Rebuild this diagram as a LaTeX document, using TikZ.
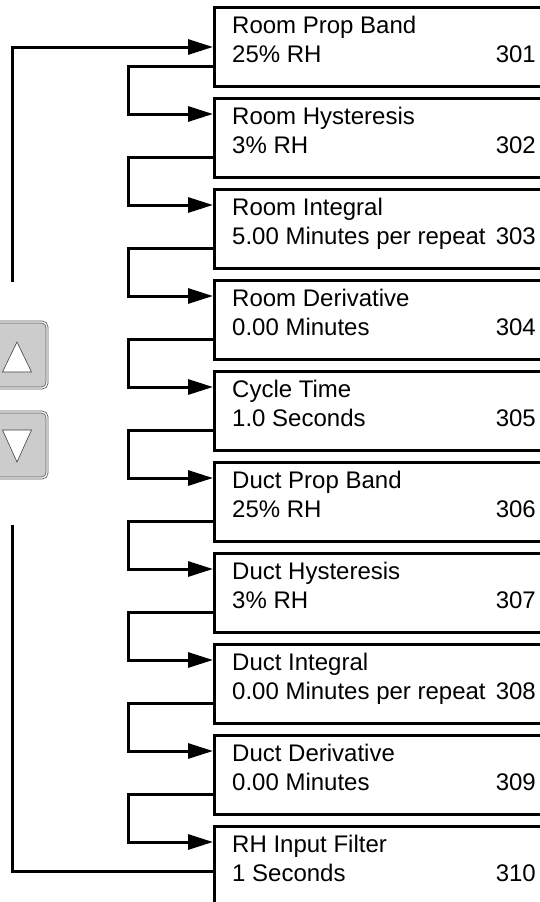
\documentclass[tikz,border=0pt]{standalone}
\usepackage{fontspec}
\setmainfont{Liberation Sans}
\usetikzlibrary{arrows.meta,positioning}
\tikzset{
  param/.style={draw,line width=3pt,minimum width=340pt,minimum height=79pt,anchor=north west},
  ptext/.style={inner sep=0pt,font=\fontsize{24}{28}\selectfont},
  flow/.style={line width=3pt,-{Triangle[length=25pt,width=15pt]}},
  keybtn/.style={draw=black!65,double=white,double distance=1.2pt,line width=0.8pt,
    fill=black!20,rounded corners=5pt,minimum width=60pt,minimum height=66pt},
  keytri/.style={draw=black!75,line width=0.6pt,fill=white}
}
\begin{document}
\begin{tikzpicture}[x=1pt,y=-1pt]
  \clip (0,0) rectangle (540,902);

  % Parameter screens
  \foreach \i/\ttl/\val/\num in {1/Room Prop Band/25\% RH/301, 2/Room Hysteresis/3\% RH/302,
      3/Room Integral/5.00 Minutes per repeat/303, 4/Room Derivative/0.00 Minutes/304,
      5/Cycle Time/1.0 Seconds/305, 6/Duct Prop Band/25\% RH/306, 7/Duct Hysteresis/3\% RH/307,
      8/Duct Integral/0.00 Minutes per repeat/308, 9/Duct Derivative/0.00 Minutes/309,
      10/RH Input Filter/1 Seconds/310}{
    \pgfmathsetmacro\ptop{6+91*(\i-1)}
    \pgfmathsetmacro\pbase{\ptop+56}
    \node[param] (b\i) at (213,\ptop) {};
    \node[ptext,anchor=base west] (t\i) at ([xshift=19pt,yshift=-27pt]b\i.north west) {\ttl};
    \node[ptext,anchor=base west] (v\i) at ([xshift=19pt,yshift=-56pt]b\i.north west) {\val};
    \node[ptext,anchor=base east] (n\i) at (536,\pbase) {\num};
  }

  % Step to next screen
  \foreach \i [count=\j from 2] in {1,...,9}
    \draw[flow] ([yshift=-60pt]b\i.north west) -- ++(-85,0) |- ([yshift=-17pt]b\j.north west);

  % Wrap around
  \coordinate (upgap) at (12,282);
  \coordinate (dngap) at (12,525);
  \draw[flow] (upgap) |- ([yshift=-41pt]b1.north west);
  \draw[line width=3pt] ([yshift=-46pt]b10.north west) -| (dngap);

  % Keys
  \node[keybtn] (keyup) at (17,355) {};
  \node[keybtn] (keydn) at (17,445) {};
  \draw[keytri] ([shift={(-14.5,17)}]keyup.center) -- ++(14.5,-30) -- ++(14.5,30) -- cycle;
  \draw[keytri] ([shift={(-14.5,-15)}]keydn.center) -- ++(14.5,32) -- ++(14.5,-32) -- cycle;
\end{tikzpicture}
\end{document}
